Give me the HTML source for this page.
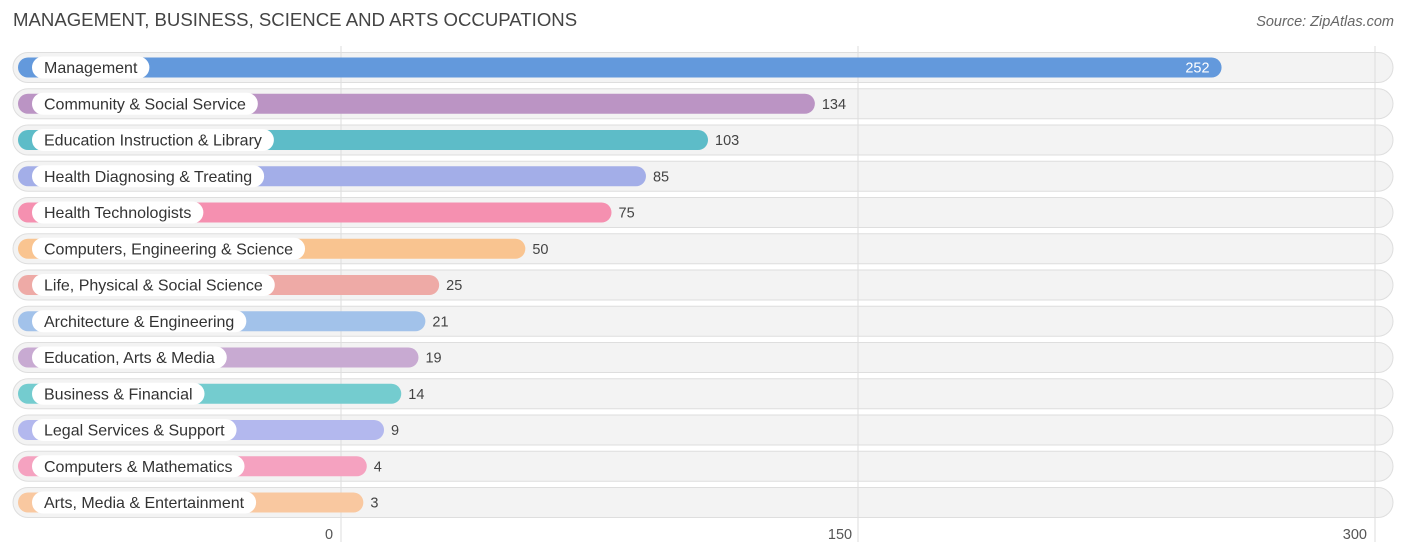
<!DOCTYPE html>
<html><head><meta charset="utf-8"><style>
body{margin:0;width:1406px;height:558px;background:#fff;font-family:"Liberation Sans",sans-serif;overflow:hidden;position:relative}
.t{position:absolute;left:13px;top:9px;font-size:18.6px;color:#444}
.s{position:absolute;right:12px;top:14px;font-size:14.5px;color:#666;font-style:italic}
</style></head><body>
<div class="t">MANAGEMENT, BUSINESS, SCIENCE AND ARTS OCCUPATIONS</div>
<div class="s">Source: ZipAtlas.com</div>
<svg id="c" width="1406" height="558" style="position:absolute;left:0;top:0"></svg>
<script>
const categories=["Management","Community & Social Service","Education Instruction & Library","Health Diagnosing & Treating","Health Technologists","Computers, Engineering & Science","Life, Physical & Social Science","Architecture & Engineering","Education, Arts & Media","Business & Financial","Legal Services & Support","Computers & Mathematics","Arts, Media & Entertainment"];
const values=[252,134,103,85,75,50,25,21,19,14,9,4,3];
const colors=["#6399dc","#bb94c4","#5dbcc8","#a3aee8","#f590b0","#f9c490","#eeaaa6","#a2c2ea","#c8aad2","#74cccf","#b3b8ee","#f5a2c0","#f9c8a0"];
const ticks=[0,150,300];
const NS="http://www.w3.org/2000/svg";
const svg=document.getElementById('c');
const x0=341,k=517/150;
const xs=v=>x0+v*k;
const barEnd=v=>xs(v)+12;
function mk(t,a){const e=document.createElementNS(NS,t);for(const n in a)e.setAttribute(n,a[n]);svg.appendChild(e);return e;}
categories.forEach((c,i)=>{
 const cy=67.5+i*36.25;
 const tr=mk('rect',{x:13,y:cy-15,width:1380,height:30,rx:15,fill:'#f3f3f3',stroke:'#dedede','stroke-width':1});
 
 
});
ticks.forEach((t,i)=>{
 const g=mk('line',{x1:xs(t),x2:xs(t),y1:46,y2:542,stroke:'#ddd','stroke-width':1});
 
 
 const tx=mk('text',{x:i==0?xs(t)-12:(i==1?xs(t)-18:xs(t)-8),y:539,'font-size':14.5,fill:'#555','text-anchor':i==2?'end':'middle','font-family':'Liberation Sans, sans-serif'});
 tx.textContent=t;
 
 
});
categories.forEach((c,i)=>{
 const cy=67.5+i*36.25;
 const b=mk('rect',{x:18,y:cy-10,width:barEnd(values[i])-18,height:20,rx:10,fill:colors[i]});
 
 
 const lt=mk('text',{x:44,y:cy+5.5,'font-size':16,fill:'#333','font-family':'Liberation Sans, sans-serif'});
 lt.textContent=c;
 const w=lt.getComputedTextLength();
 const p=mk('rect',{x:32,y:cy-11,width:w+24,height:22,rx:11,fill:'#fff'});
 
 
 svg.appendChild(lt);
 
 
 const inside=i==0;
 const vt=mk('text',{x:inside?barEnd(values[i])-12:barEnd(values[i])+7,y:cy+5,'font-size':14.5,fill:inside?'#fff':'#444','text-anchor':inside?'end':'start','font-family':'Liberation Sans, sans-serif'});
 vt.textContent=values[i];
 
 
});
</script>
</body></html>
